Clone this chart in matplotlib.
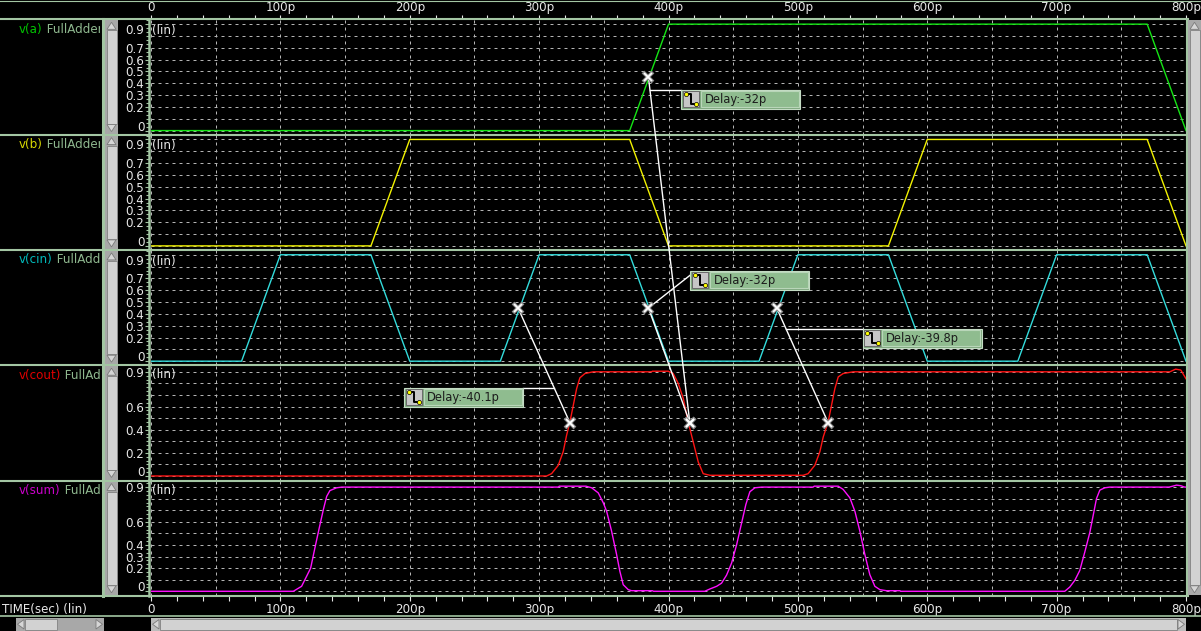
import numpy as np
import matplotlib
matplotlib.use("Agg")
import matplotlib.pyplot as plt
from matplotlib.patches import Rectangle, Polygon
from matplotlib.ticker import MultipleLocator

plt.rcParams['font.family'] = ['DejaVu Sans']

W, H = 1201, 631
DPI = 100

# ---------------- data ----------------
time_ticks = [0, 100, 200, 300, 400, 500, 600, 700, 800]
time_labels = ['0', '100p', '200p', '300p', '400p', '500p', '600p', '700p', '800p']

a_t = [0, 370, 400, 770, 800]
a_v = [0, 0, 0.9, 0.9, 0]

b_t = [0, 170, 200, 370, 400, 570, 600, 770, 800]
b_v = [0, 0, 0.9, 0.9, 0, 0, 0.9, 0.9, 0]

cin_t = [0, 70, 100, 170, 200, 270, 300, 370, 400, 470, 500, 570, 600, 670, 700, 770, 800]
cin_v = [0, 0, 0.9, 0.9, 0, 0, 0.9, 0.9, 0, 0, 0.9, 0.9, 0, 0, 0.9, 0.9, 0]

cout_t = [0, 305.8, 309.6, 314.8, 318.6, 321.2, 323.8, 326.4, 329.0, 331.5, 335.4, 341.8,
          386.9, 387.5, 399.8, 403.6, 407.5, 411.4, 415.2, 419.1, 423.0, 426.8, 432.0,
          504.1, 507.9, 513.1, 517.0, 519.6, 523.4, 526.0, 528.6, 531.2, 535.0, 542.8,
          787.5, 792.0, 796.0, 800.0]
cout_v = [0, 0, 0.02, 0.092, 0.21, 0.35, 0.467, 0.61, 0.755, 0.848, 0.885, 0.9,
          0.9, 0.905, 0.905, 0.885, 0.80, 0.67, 0.467, 0.294, 0.121, 0.02, 0.006,
          0.006, 0.02, 0.092, 0.21, 0.337, 0.467, 0.61, 0.755, 0.856, 0.885, 0.9,
          0.9, 0.923, 0.915, 0.84]

sum_t = [0, 110.0, 116.4, 120.3, 123.4, 126.7, 130.1, 133.2, 135.8, 138.3, 143.5, 147.4,
         314.8, 315.6, 336.2, 340.6, 345.7, 349.6, 352.2, 356.0, 359.9, 362.4, 365.0, 368.9, 371.5, 387.5, 388.5,
         428.0, 432.0, 437.2, 441.0, 444.9, 448.8, 452.6, 456.5, 459.8, 462.9, 466.8, 471.9,
         511.8, 512.6, 531.2, 535.0, 540.2, 544.1, 547.9, 551.8, 555.6, 559.5, 563.4, 568.5, 578.8, 579.5,
         706.3, 710.2, 714.1, 717.9, 721.8, 725.7, 728.8, 730.8, 733.4, 737.3, 741.1,
         787.0, 792.7, 796.0, 799.0, 800.0]
sum_v = [0, 0, 0.043, 0.13, 0.20, 0.375, 0.55, 0.705, 0.82, 0.87, 0.894, 0.9,
         0.9, 0.908, 0.908, 0.894, 0.85, 0.764, 0.69, 0.52, 0.317, 0.173, 0.057, 0.014, 0.005, 0.005, 0.0,
         0.0, 0.02, 0.043, 0.07, 0.14, 0.245, 0.40, 0.59, 0.75, 0.86, 0.894, 0.9,
         0.9, 0.908, 0.908, 0.88, 0.807, 0.69, 0.52, 0.317, 0.144, 0.043, 0.014, 0.005, 0.005, 0.0,
         0.0, 0.037, 0.095, 0.18, 0.34, 0.51, 0.686, 0.80, 0.874, 0.894, 0.9,
         0.9, 0.917, 0.912, 0.9, 0.9]

signal_names = ['v(a)', 'v(b)', 'v(cin)', 'v(cout)', 'v(sum)']
subckt_name = 'FullAdder'

ytick_values = [
    [0, 0.2, 0.3, 0.4, 0.5, 0.6, 0.7, 0.9],
    [0, 0.2, 0.3, 0.4, 0.5, 0.6, 0.7, 0.9],
    [0, 0.2, 0.3, 0.4, 0.5, 0.6, 0.7, 0.9],
    [0, 0.2, 0.4, 0.6, 0.9],
    [0, 0.2, 0.3, 0.4, 0.6, 0.9],
]
grid_levels = [0, 0.1, 0.2, 0.3, 0.4, 0.5, 0.6, 0.7, 0.8, 0.9]
grid_times = [0, 50, 100, 150, 200, 250, 300, 350, 400, 450, 500, 550, 600, 650, 700, 750, 800]

# delay measurements (from-signal crossing -> v(cout) crossing)
meas_from_sig = ['v(a)', 'v(cin)', 'v(cin)', 'v(cin)']
meas_from_t = [384.5, 384.5, 283.7, 483.6]
meas_to_sig = ['v(cout)', 'v(cout)', 'v(cout)', 'v(cout)']
meas_to_t = [416.5, 416.5, 323.8, 523.4]
meas_from_v = 0.45
meas_to_v = 0.46

# ---------------- style / layout ----------------
signal_colors = ['#14e614', '#f2f200', '#33dcdc', '#ff1414', '#ff10ff']
label_colors = ['#00c400', '#dada00', '#00bcbc', '#e00000', '#cc00cc']
NAMEC = '#8fb88f'
GREEN = '#a3c6a3'
GRIDC = '#b4b4b4'
TXT = '#e8e8e8'
BOXG = '#8fbc8f'
FS = 8.6

PLOT_L, PLOT_R = 151, 1186
PANEL_TOP, PANEL_H = 19.3, 115.3
panel_ylims = [(-0.034, 0.941)] * 3 + [(-0.039, 0.957)] * 2

fig = plt.figure(figsize=(W / DPI, H / DPI), dpi=DPI, facecolor='black')

panel_data = [(a_t, a_v), (b_t, b_v), (cin_t, cin_v), (cout_t, cout_v), (sum_t, sum_v)]
axes = []
for i, (tt, vv) in enumerate(panel_data):
    top = PANEL_TOP + i * PANEL_H
    ax = fig.add_axes([PLOT_L / W, 1 - (top + PANEL_H) / H, (PLOT_R - PLOT_L) / W, PANEL_H / H])
    ax.set_facecolor('black')
    ax.set_xlim(0, 800)
    ax.set_ylim(*panel_ylims[i])
    for s in ('top', 'right', 'bottom'):
        ax.spines[s].set_visible(False)
    ax.spines['left'].set_color(GREEN)
    ax.spines['left'].set_linewidth(1.8)
    ax.spines['left'].set_position(('outward', 1.2))

    ax.hlines(grid_levels, 0, 800, colors=GRIDC, linestyles=[(0, (3, 4))], linewidth=0.72, zorder=1)
    ax.vlines(grid_times, 0, 1, transform=ax.get_xaxis_transform(), colors=GRIDC,
              linestyles=[(0, (3, 4))], linewidth=0.72, zorder=1)
    ax.plot(tt, vv, color=signal_colors[i], lw=1.0, zorder=3)

    ax.set_yticks(ytick_values[i], [f'{v:g}' for v in ytick_values[i]])
    ax.yaxis.set_minor_locator(MultipleLocator(1 / 30))
    ax.tick_params(axis='y', which='both', direction='out', colors=GREEN, labelcolor=TXT,
                   labelsize=FS, pad=0.6, width=0.8)
    ax.tick_params(axis='y', which='major', length=3)
    ax.tick_params(axis='y', which='minor', length=2)
    for lbl in ax.get_yticklabels():
        if lbl.get_text() == '0':
            lbl.set_verticalalignment('baseline')
        if lbl.get_text() == '0.9' and i < 3:
            lbl.set_verticalalignment('top')

    if i < 3:
        ax.annotate('(lin)', xy=(0, 0.9), xytext=(1, 0), textcoords='offset pixels',
                    va='top', ha='left', color=TXT, fontsize=FS, zorder=5)
    else:
        ax.annotate('(lin)', xy=(0, 0.9), xytext=(1, -1.5), textcoords='offset pixels',
                    va='center_baseline', ha='left', color=TXT, fontsize=FS, zorder=5)

    if i == 0 or i == 4:
        ax.set_xticks(time_ticks, time_labels)
        ax.xaxis.set_minor_locator(MultipleLocator(20))
        if i == 0:
            ax.xaxis.set_ticks_position('top')
            ax.tick_params(axis='x', which='both', top=True, bottom=False, labeltop=True,
                           labelbottom=False, direction='out', length=3.1, width=0.8,
                           colors=TXT, labelsize=FS, pad=0.6)
        else:
            ax.tick_params(axis='x', which='both', bottom=True, top=False, direction='out',
                           length=3.6, width=0.8, colors=TXT, labelsize=FS, pad=1.6)
    else:
        ax.tick_params(axis='x', which='both', bottom=False, labelbottom=False)
    axes.append(ax)

    # signal name column
    lab = fig.add_axes([0, 1 - (top + PANEL_H) / H, 100 / W, PANEL_H / H])
    lab.set_xlim(0, 100)
    lab.set_ylim(PANEL_H, 0)
    lab.axis('off')
    t1 = lab.text(19, 10, signal_names[i], color=label_colors[i], fontsize=FS,
                  va='center', ha='left', clip_on=True)
    lab.annotate(' ' + subckt_name, xy=(1, 0), xycoords=t1, va='bottom', ha='left',
                 color=NAMEC, fontsize=FS, clip_on=True)

# ---------------- overlay (frame, scrollbars, measurements) ----------------
ov = fig.add_axes([0, 0, 1, 1], zorder=10)
ov.set_xlim(0, W)
ov.set_ylim(H, 0)
ov.axis('off')


def to_px(ax, t, v):
    x, y = ax.transData.transform((t, v))
    return x, H - y


# frame lines
ov.plot([0, W], [0.5, 0.5], color=GREEN, lw=0.8)
for k in range(6):
    yy = PANEL_TOP + k * PANEL_H
    ov.plot([0, 1188], [yy, yy], color=GREEN, lw=1.5, zorder=2)
ov.plot([0, W], [615.7, 615.7], color=GREEN, lw=1.2)
ov.plot([102.5, 102.5], [PANEL_TOP, PANEL_TOP + 5 * PANEL_H], color=GREEN, lw=2.2)
ov.plot([1187, 1187], [PANEL_TOP, PANEL_TOP + 5 * PANEL_H], color=GREEN, lw=1.5)


def vscroll(x0, y0, w, h):
    ov.add_patch(Rectangle((x0, y0), w, h, fc='#a8a8a8', ec='none', zorder=3))
    ov.add_patch(Rectangle((x0 + 1.5, y0 + 10), w - 3, h - 20, fc='#d2d2d2', ec='#8a8a8a', lw=0.7, zorder=4))
    ov.add_patch(Polygon([(x0 + 2, y0 + 9), (x0 + w / 2, y0 + 2), (x0 + w - 2, y0 + 9)], closed=True,
                         fc='#d6d6d6', ec='#7a7a7a', lw=0.6, zorder=4))
    ov.add_patch(Polygon([(x0 + 2, y0 + h - 9), (x0 + w / 2, y0 + h - 2), (x0 + w - 2, y0 + h - 9)],
                         closed=True, fc='#d6d6d6', ec='#7a7a7a', lw=0.6, zorder=4))


def hscroll(x0, y0, w, h, th0, th1, track):
    ov.add_patch(Rectangle((x0, y0), w, h, fc=track, ec='none', zorder=3))
    ov.add_patch(Rectangle((th0, y0 + 1.5), th1 - th0, h - 3, fc='#d2d2d2', ec='#8a8a8a', lw=0.7, zorder=4))
    ov.add_patch(Polygon([(x0 + 8, y0 + 2), (x0 + 1.5, y0 + h / 2), (x0 + 8, y0 + h - 2)], closed=True,
                         fc='#d6d6d6', ec='#7a7a7a', lw=0.6, zorder=4))
    ov.add_patch(Polygon([(x0 + w - 8, y0 + 2), (x0 + w - 1.5, y0 + h / 2), (x0 + w - 8, y0 + h - 2)],
                         closed=True, fc='#d6d6d6', ec='#7a7a7a', lw=0.6, zorder=4))


for k in range(5):
    vscroll(105, PANEL_TOP + k * PANEL_H + 1, 13, PANEL_H - 2)
vscroll(1188, PANEL_TOP + 1, 13, 5 * PANEL_H - 2)
hscroll(16, 617.5, 88, 13.5, 25, 57, '#a8a8a8')
hscroll(151, 617.5, 1035, 13.5, 160, 1177, '#bcbcbc')

ov.text(2, 609, 'TIME(sec) (lin)', color=TXT, fontsize=FS, va='center', ha='left')


def draw_box(bx, by, text):
    bw, bh = 119, 19
    ov.add_patch(Rectangle((bx, by), bw, bh, fc='#7da77d', ec='#c4dcc4', lw=0.8, zorder=20))
    ov.add_patch(Rectangle((bx + 1.5, by + 1.5), 16, 16, fc='#c6c6c6', ec='#6a6a6a', lw=0.7, zorder=21))
    ov.plot([bx + 4.5, bx + 9.5, bx + 9.5, bx + 15], [by + 4.5, by + 4.5, by + 14.5, by + 14.5],
            color='black', lw=1.4, zorder=22, solid_capstyle='butt')
    ov.plot([bx + 4.5, bx + 15], [by + 4.5, by + 14.5], ls='none', marker='o', ms=3,
            mfc='#ffff00', mec='black', mew=0.5, zorder=23)
    ov.add_patch(Rectangle((bx + 19.5, by + 1.5), bw - 21, 16, fc=BOXG, ec='#b9d6b9', lw=0.8, zorder=21))
    ov.text(bx + 23, by + bh / 2 + 0.5, text, fontsize=8.3, color='#1c1c1c', va='center',
            ha='left', zorder=24)


# layout of the measurement boxes relative to their start marker (pixels)
box_offsets = [(33, 12.5, 'h'), (42, -37, 'd'), (5 - 119, 80, 'h'), (86, 21, 'h')]

sig_index = {name: k for k, name in enumerate(signal_names)}
for k in range(len(meas_from_t)):
    ax_f = axes[sig_index[meas_from_sig[k]]]
    ax_t = axes[sig_index[meas_to_sig[k]]]
    x1, y1 = to_px(ax_f, meas_from_t[k], meas_from_v)
    x2, y2 = to_px(ax_t, meas_to_t[k], meas_to_v)
    ov.plot([x1, x2], [y1, y2], color='white', lw=1.0, zorder=15)
    dx, dy, mode = box_offsets[k]
    bx, by = x1 + dx, y1 + dy
    if mode == 'h':
        xl = x1 + (x2 - x1) * (by - y1) / (y2 - y1)
        edge = bx if bx > xl else bx + 119
        ov.plot([xl, edge], [by, by], color='white', lw=1.0, zorder=15)
    else:
        ov.plot([x1, bx], [y1, by + 4], color='white', lw=1.0, zorder=15)
    delay = meas_from_t[k] - meas_to_t[k]
    draw_box(bx, by, f'Delay:{delay:.3g}p')
    for (mx, my) in ((x1, y1), (x2, y2)):
        ov.plot(mx, my, marker='x', ms=7, mew=2.8, color='#8c8c8c', zorder=17)
        ov.plot(mx, my, marker='x', ms=6, mew=1.3, color='white', zorder=18)

fig.savefig('out.png', dpi=DPI, facecolor='black')
